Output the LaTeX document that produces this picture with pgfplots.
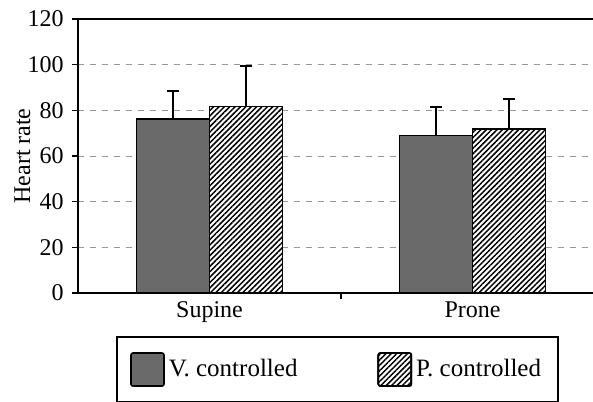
\documentclass[border=0pt]{standalone}
\usepackage{fontspec}
\setmainfont{Liberation Serif}
\usepackage{pgfplots}
\pgfplotsset{compat=1.18}
\usetikzlibrary{patterns.meta}
\definecolor{vgray}{RGB}{106,106,106}
\begin{document}
\fontsize{12}{14}\selectfont
\begin{tikzpicture}
\begin{axis}[
  scale only axis, width=257.5pt, height=137pt,
  xmin=-0.5, xmax=1.458, ymin=0, ymax=120,
  ybar=0pt, bar width=36.5pt,
  axis x line*=bottom, axis y line*=left,
  axis line style={line width=1pt, -},
  ytick={0,20,...,120},
  ymajorgrids, grid style={dashed, gray!80, line width=0.4pt},
  tick align=outside, major tick length=3pt,
  ytick style={line width=0.8pt, black},
  xtick={0.5}, xticklabels={},
  xtick style={line width=0.8pt, black},
  extra x ticks={0,1}, extra x tick labels={Supine,Prone},
  extra x tick style={major tick length=0pt, grid=none},
  /pgf/number format/assume math mode=true,
  ticklabel style={font=\fontsize{12}{14}\selectfont},
  ylabel={Heart rate},
  ylabel style={font=\fontsize{12}{14}\selectfont, at={(axis description cs:-0.076,0.5)}, anchor=south},
  legend columns=2,
  legend style={at={(axis description cs:0.0738,-0.157)}, anchor=north west,
    draw=black, line width=1.2pt, inner xsep=6.5pt, inner ysep=7.5pt,
    font=\fontsize{12.5}{14}\selectfont, cells={anchor=west},
    /tikz/every even column/.append style={column sep=38pt}},
  legend image code/.code={\draw[#1, line width=0.8pt, rounded corners=1pt] (0pt,-8.25pt) rectangle (16.5pt,8.25pt);},
]
\addplot[fill=vgray, draw=black, line width=0.8pt,
  error bars/.cd, y dir=plus, y explicit, error mark=|,
  error bar style={line width=1pt, draw=black},
  error mark options={line width=1pt, mark size=3pt, draw=black}]
  coordinates {(0,76.1) +- (0,12.4) (1,68.9) +- (0,12.4)};
\addplot[draw=black, line width=0.8pt, preaction={fill=white},
  pattern={Lines[angle=45, distance=1.9pt, line width=0.75pt]},
  error bars/.cd, y dir=plus, y explicit, error mark=|,
  error bar style={line width=1pt, draw=black},
  error mark options={line width=1pt, mark size=3pt, draw=black}]
  coordinates {(0,81.6) +- (0,17.7) (1,71.8) +- (0,13.2)};
\legend{V. controlled, P. controlled}
\draw[line width=1pt] (rel axis cs:0,1) -- (rel axis cs:1,1);
\end{axis}
\pgfresetboundingbox
\path (-39pt,-54pt) rectangle (257.5pt,146.5pt);
\end{tikzpicture}
\end{document}
